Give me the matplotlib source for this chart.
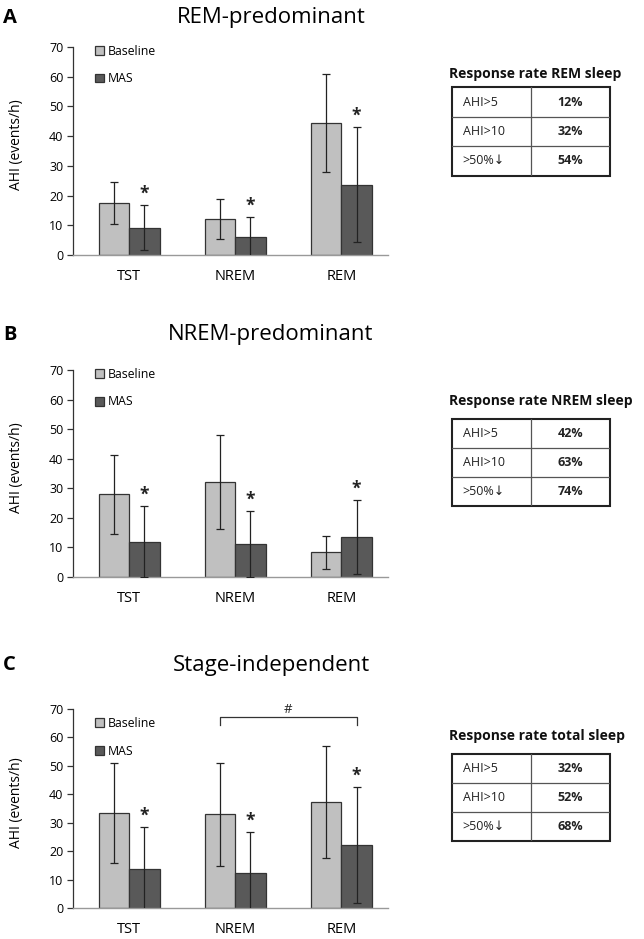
import numpy as np
import matplotlib
matplotlib.use('Agg')
import matplotlib.pyplot as plt
from matplotlib.patches import Rectangle

plt.rcParams['font.family'] = ['Open Sans', 'DejaVu Sans']
plt.rcParams['axes.unicode_minus'] = False

# data
categories = ['TST', 'NREM', 'REM']
series_names = ['Baseline', 'MAS']

a_base = [17.5, 12.2, 44.5]
a_base_sd = [7.0, 6.7, 16.4]
a_mas = [9.2, 6.0, 23.7]
a_mas_sd = [7.6, 6.8, 19.3]

b_base = [27.9, 32.0, 8.2]
b_base_sd = [13.3, 15.9, 5.6]
b_mas = [11.9, 11.0, 13.5]
b_mas_sd = [12.0, 11.2, 12.5]

c_base = [33.5, 33.0, 37.3]
c_base_sd = [17.7, 18.2, 19.8]
c_mas = [13.8, 12.4, 22.3]
c_mas_sd = [14.9, 14.5, 20.3]

rate_rows = ['AHI>5', 'AHI>10', '>50%↓']
a_rates = ['12%', '32%', '54%']
b_rates = ['42%', '63%', '74%']
c_rates = ['32%', '52%', '68%']

panel_letters = ['A', 'B', 'C']
panel_titles = ['REM-predominant', 'NREM-predominant', 'Stage-independent']
table_titles = ['Response rate REM sleep', 'Response rate NREM sleep', 'Response rate total sleep']

W, H = 644, 939
fig = plt.figure(figsize=(W / 100, H / 100), dpi=100)


def px_rect(x0, y0, x1, y1):
    # pixel box (top-left origin) -> figure fraction rect
    return [x0 / W, 1 - y1 / H, (x1 - x0) / W, (y1 - y0) / H]


base_color = '#c0c0c0'
mas_color = '#595959'
edge = '#333333'
bw = 0.286


def bar_panel(ax, base, base_sd, mas, mas_sd, legend_y, bracket=False):
    x = np.arange(len(categories))
    ax.bar(x - bw / 2, base, bw, color=base_color, edgecolor=edge, linewidth=0.9,
           label=series_names[0], zorder=2)
    ax.bar(x + bw / 2, mas, bw, color=mas_color, edgecolor=edge, linewidth=0.9,
           label=series_names[1], zorder=2)
    ax.errorbar(x - bw / 2, base, yerr=base_sd, fmt='none', ecolor='#222222',
                elinewidth=0.9, capsize=3.2, capthick=0.9, zorder=3)
    ax.errorbar(x + bw / 2, mas, yerr=mas_sd, fmt='none', ecolor='#222222',
                elinewidth=0.9, capsize=3.2, capthick=0.9, zorder=3)
    for xi, m, s in zip(x, mas, mas_sd):
        ax.text(xi + bw / 2, m + s + 3.8, '*', ha='center', va='center',
                fontsize=12.5, fontweight='bold', color='#222222')
    ax.set_xlim(-0.53, 2.44)
    ax.set_ylim(0, 70)
    ax.set_yticks(range(0, 71, 10))
    ax.set_xticks(x)
    ax.set_xticklabels(categories, fontsize=10.5)
    ax.tick_params(axis='x', length=0, pad=10)
    ax.tick_params(axis='y', length=4, width=0.9, pad=3, labelsize=9, color='#333333')
    for s in ['top', 'right']:
        ax.spines[s].set_visible(False)
    ax.spines['left'].set_color('#333333')
    ax.spines['left'].set_linewidth(0.9)
    ax.spines['bottom'].set_color('#999999')
    ax.spines['bottom'].set_linewidth(1.0)
    ax.set_ylabel('AHI (events/h)', fontsize=10)
    ax.yaxis.set_label_coords(-0.155, 0.53)
    ax.legend(loc='upper left', bbox_to_anchor=(0.055, legend_y), frameon=False,
              fontsize=8.8, handlelength=0.75, handleheight=0.75, handletextpad=0.3,
              labelspacing=1.2, borderaxespad=0)
    if bracket:
        xl = 1 - bw / 2
        xr = 2 + bw / 2
        ax.plot([xl, xl, xr, xr], [64.4, 67.1, 67.1, 64.4], color='#333333',
                linewidth=0.9, clip_on=False)
        ax.text((xl + xr) / 2, 67.4, '#', ha='center', va='bottom', fontsize=9.5,
                color='#222222')


def rate_table(rect, title, values, title_y):
    tax = fig.add_axes(px_rect(*rect))
    tax.set_xlim(0, 1)
    tax.set_ylim(0, len(rate_rows))
    tax.axis('off')
    tax.add_patch(Rectangle((0, 0), 1, len(rate_rows), fill=False, edgecolor='#222222',
                            linewidth=1.5, clip_on=False))
    split = (531 - rect[0]) / (rect[2] - rect[0])
    tax.plot([split, split], [0, len(rate_rows)], color='#555555', linewidth=0.9)
    for i in range(1, len(rate_rows)):
        tax.plot([0, 1], [i, i], color='#555555', linewidth=0.9)
    for i, (r, v) in enumerate(zip(rate_rows, values)):
        yc = len(rate_rows) - i - 0.5
        tax.text(0.07, yc, r, ha='left', va='center', fontsize=9, color='#222222')
        tax.text((split + 1) / 2, yc, v, ha='center', va='center', fontsize=9,
                 fontweight='bold', color='#222222')
    fig.text(449 / W, 1 - title_y / H, title, ha='left', va='center', fontsize=10,
             fontweight='bold', color='#111111')


# panel geometry in pixels
ax_boxes = [(73, 47, 388, 255), (73, 370, 388, 576.7), (73, 709, 388, 908.3)]
title_ys = [18, 335, 665]
table_boxes = [(451.7, 87.3, 610, 175.7), (451.7, 419.3, 610, 506), (451.7, 754, 610, 841)]
table_title_ys = [74, 401, 736]
legend_ys = [1.035, 1.035, 0.985]

panel_data = [
    (a_base, a_base_sd, a_mas, a_mas_sd),
    (b_base, b_base_sd, b_mas, b_mas_sd),
    (c_base, c_base_sd, c_mas, c_mas_sd),
]
panel_rates = [a_rates, b_rates, c_rates]

for k in range(3):
    ax = fig.add_axes(px_rect(*ax_boxes[k]))
    bar_panel(ax, *panel_data[k], legend_y=legend_ys[k], bracket=(k == 2))
    fig.text(3 / W, 1 - title_ys[k] / H, panel_letters[k], ha='left', va='center',
             fontsize=14.5, fontweight='bold')
    fig.text(271 / W, 1 - title_ys[k] / H, panel_titles[k], ha='center', va='center',
             fontsize=16)
    rate_table(table_boxes[k], table_titles[k], panel_rates[k], table_title_ys[k])

fig.savefig('out.png', dpi=100)
